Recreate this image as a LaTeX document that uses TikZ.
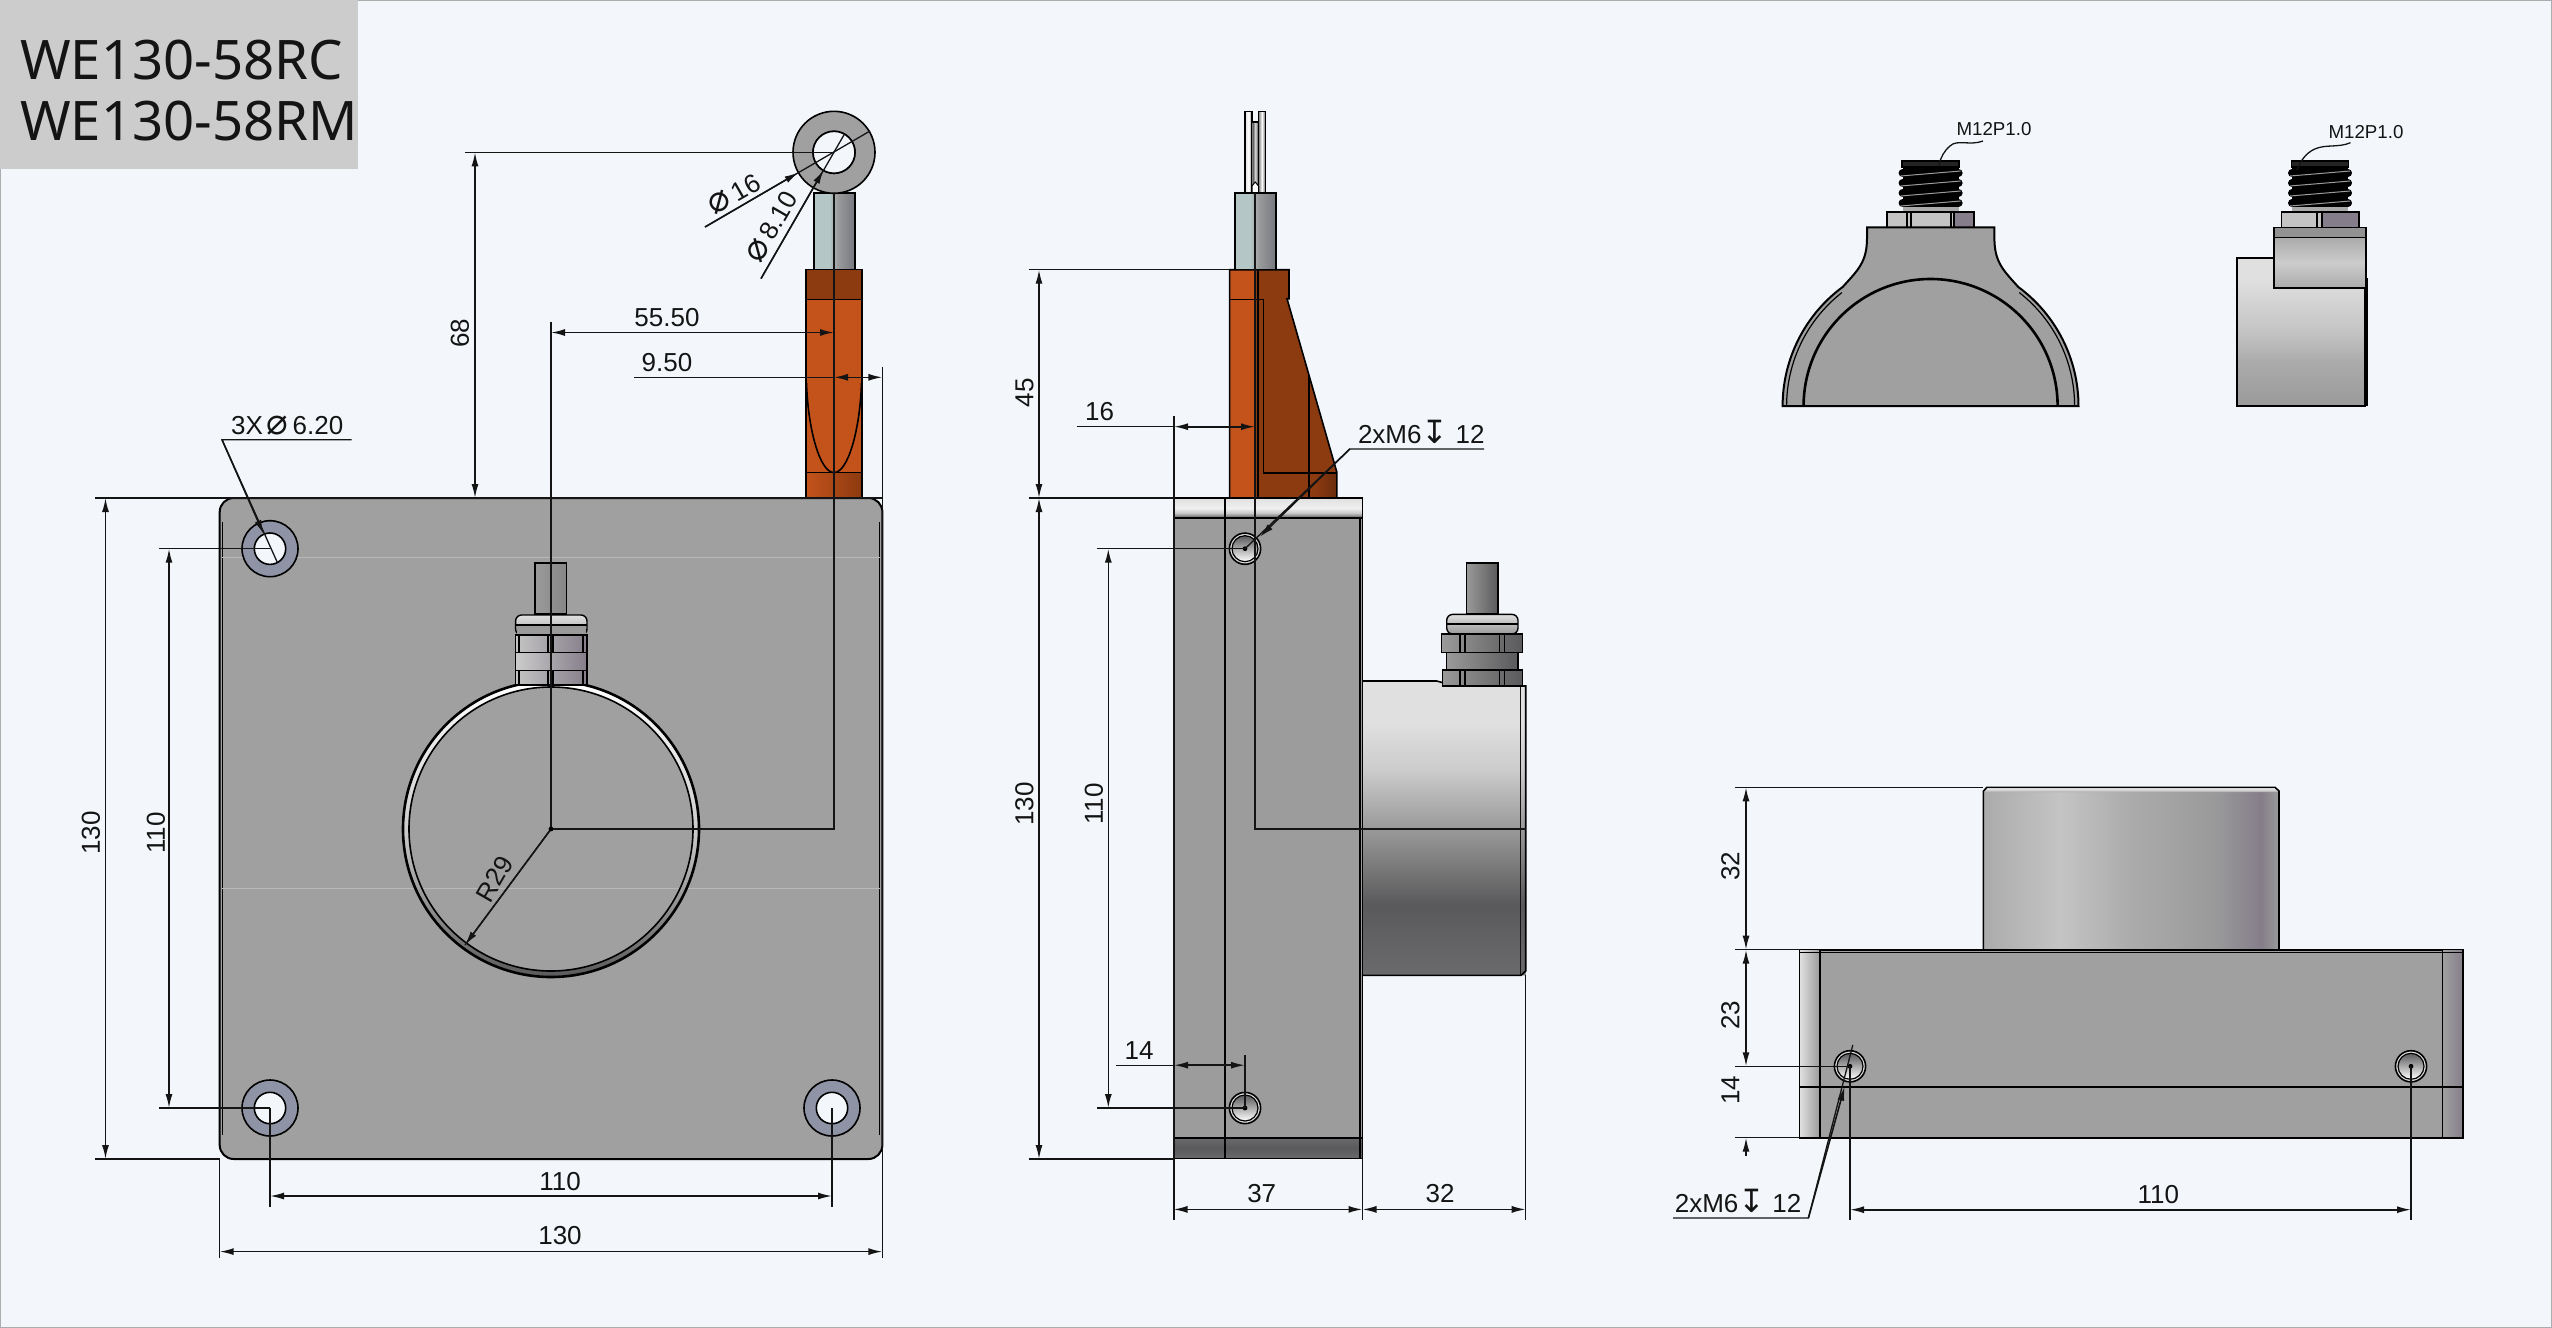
\documentclass[tikz,border=0pt]{standalone}
\usepackage{fontspec}
\setmainfont{Liberation Sans}
\newfontfamily\titlefont{Noto Sans}
\newfontfamily\symfont{DejaVu Sans}
\usetikzlibrary{calc,arrows.meta}
\definecolor{pagebg}{HTML}{F3F7FC}
\definecolor{titlebg}{HTML}{CCCCCC}
\definecolor{platecol}{HTML}{A0A0A0}
\definecolor{sidecol}{HTML}{9C9C9C}
\definecolor{orangeL}{HTML}{C4531B}
\definecolor{orangeD}{HTML}{8C3A10}
\definecolor{ringcol}{HTML}{8E93A6}
\definecolor{inkcol}{HTML}{141414}
\definecolor{cA}{HTML}{6A6A6C}
\definecolor{cB}{HTML}{5A5A5C}
\definecolor{cC}{HTML}{9A9A9A}
\definecolor{cD}{HTML}{CCCCCC}
\definecolor{cE}{HTML}{E0E0E0}
\definecolor{cF}{HTML}{ABABAB}
\definecolor{cG}{HTML}{C4C4C4}
\definecolor{cH}{HTML}{857E8A}
\definecolor{cI}{HTML}{B4C6C6}
\definecolor{cJ}{HTML}{767880}
\definecolor{cK}{HTML}{F0F0F0}
\pgfdeclareverticalshading{drumside}{100bp}{color(0bp)=(cA);color(25bp)=(cA);color(37bp)=(cB);color(50bp)=(cC);color(60bp)=(cD);color(68bp)=(cE);color(75bp)=(cE);color(100bp)=(cE)}
\pgfdeclareverticalshading{drumsmall}{100bp}{color(0bp)=(cC);color(25bp)=(cC);color(40bp)=(cF);color(50bp)=(cG);color(68bp)=(cE);color(75bp)=(cE);color(100bp)=(cE)}
\pgfdeclareverticalshading{bandtop}{100bp}{color(0bp)=(cB);color(25bp)=(cB);color(38bp)=(cD);color(50bp)=(cK);color(75bp)=(cE);color(100bp)=(cE)}
\pgfdeclareverticalshading{bandlow}{100bp}{color(0bp)=(cA);color(25bp)=(cA);color(50bp)=(cB);color(75bp)=(cA);color(100bp)=(cA)}
\pgfdeclarehorizontalshading{drumtop}{100bp}{color(0bp)=(cF);color(25bp)=(cF);color(38bp)=(cG);color(50bp)=(cF);color(64bp)=(cC);color(72bp)=(cH);color(75bp)=(cC);color(100bp)=(cC)}
\pgfdeclarehorizontalshading{rodmetal}{100bp}{color(0bp)=(cI);color(25bp)=(cI);color(44bp)=(cI);color(54bp)=(cC);color(75bp)=(cJ);color(100bp)=(cJ)}
\pgfdeclarehorizontalshading{forkmetal}{100bp}{color(0bp)=(cE);color(25bp)=(cE);color(34bp)=(white);color(44bp)=(cB);color(50bp)=(cE);color(56bp)=(cB);color(66bp)=(white);color(75bp)=(cB);color(100bp)=(cB)}
\tikzset{
  dimtext/.style={font=\fontsize{26}{26}\selectfont,text=inkcol,inner sep=0pt},
  smalltext/.style={font=\fontsize{18.7}{19}\selectfont,text=inkcol,inner sep=0pt},
  titletext/.style={anchor=base west,inner sep=0pt,font=\titlefont\fontsize{54.5}{54}\selectfont,text=inkcol},
  dimarrow/.style={line width=1.6pt,draw=inkcol,{Latex[length=14pt,width=7pt]}-{Latex[length=14pt,width=7pt]}},
  tiparrow/.style={line width=1.6pt,draw=inkcol,-{Latex[length=14pt,width=7pt]}},
  extline/.style={line width=1.3pt,draw=inkcol},
  outline/.style={line width=1.6pt,draw=black},
  bigline/.style={line width=2.6pt,draw=black},
}
\newcommand{\dia}{{\symfont\fontsize{36}{26}\selectfont ⌀}}
\newcommand{\depth}{{\symfont\fontsize{32}{26}\selectfont ↧}}
% thread of the small connector, #1 is its centre line
\newcommand{\drawthread}[1]{
  \fill[black] (#1-28,167) rectangle (#1+28,207);
  \foreach \ty in {173,183,...,203}{
    \fill[black] (#1-28,\ty) circle[radius=4pt] (#1+28,\ty) circle[radius=4pt];
    \draw[cC,line width=1pt] (#1-30,\ty+3) -- (#1+30,\ty-2);
  }
  \fill[cB!40!black] (#1-28.5,161) rectangle (#1+28.5,167);
  \fill[cF] (#1-28,207) rectangle (#1+28,212);
  \draw[outline] (#1-28.5,161) rectangle (#1+28.5,167);
}
% threaded hole of the side views
\newcommand{\drawhole}[2]{
  \draw[line width=1.6pt,fill=cE] (#1,#2) circle[radius=15.6pt];
  \shade[top color=cB,bottom color=white,draw=black,line width=1.2pt] (#1,#2) circle[radius=13pt];
  \fill[black] (#1,#2) circle[radius=2.4pt];
}
\begin{document}
\begin{tikzpicture}[x=1pt,y=-1pt]
  \useasboundingbox (0,0) rectangle (2552,1328);
  \fill[pagebg] (0,0) rectangle (2552,1328);
  \draw[cD!85!black,line width=2.5pt] (0,0) rectangle (2552,1328);
  \fill[titlebg] (0,0) rectangle (358,169);
  \node[titletext] (title1) at (20,79) {WE130-58RC};
  \node[titletext] (title2) at (20,140) {WE130-58RM};

  % front view
  \coordinate (FC) at (551,829);
  \coordinate (H1) at (270,548.7);
  \coordinate (H2) at (270,1108);
  \coordinate (H3) at (832,1108);
  \coordinate (RC) at (834,152.3);
  \fill[orangeL] (806,269.4) rectangle (862,498);
  \fill[orangeD] (806,269.4) rectangle (862,299.6);
  \shade[left color=orangeL,right color=orangeD] (806,472.6) rectangle (862,498);
  \draw[outline] (806,498) -- (806,269.4) -- (862,269.4) -- (862,498);
  \draw[outline] (806,299.6) -- (862,299.6) (806,472.6) -- (862,472.6);
  \draw[outline] (806.5,383) .. controls (808,430) and (820,472.6) .. (834,472.6) .. controls (848,472.6) and (860,430) .. (861.5,383);
  \shade[shading=rodmetal,draw=black,line width=1.4pt] (814,193) rectangle (855,269.4);
  \draw[outline,fill=platecol,even odd rule] (RC) circle[radius=41pt] (RC) circle[radius=21pt];
  \fill[pagebg] (RC) circle[radius=21pt];
  \draw[outline] (RC) circle[radius=21pt];
  \draw[line width=2pt,fill=platecol,rounded corners=14pt] (219.7,498) rectangle (882.4,1159);
  \draw[line width=1.2pt] (222.5,522) -- (222.5,1135) (879.6,522) -- (879.6,1135);
  \draw[line width=1pt,draw=white!25!platecol] (222,557) -- (880,557) (222,888) -- (880,888);
  \foreach \hole in {H1,H2,H3}{
    \draw[outline,fill=ringcol] (\hole) circle[radius=28pt];
    \draw[outline,fill=pagebg] (\hole) circle[radius=15.7pt];
  }
  \shade[top color=white,bottom color=cB,middle color=cD,even odd rule] (FC) circle[radius=147pt] (FC) circle[radius=142pt];
  \draw[line width=2.6pt] (FC) circle[radius=148pt];
  \draw[outline] (FC) circle[radius=142pt];
  % cable gland on the front view
  \shade[left color=cC,right color=cC!70!cB,draw=black,line width=1.4pt] (535,563) rectangle (566.5,614);
  \shade[top color=cE,bottom color=cF,draw=black,line width=1.4pt,rounded corners=6pt] (515.6,635) -- (515.6,615) -- (587,615) -- (587,635) -- cycle;
  \fill[cC] (516.5,625) rectangle (586,634);
  \draw[line width=1.2pt] (515.6,625) -- (587,625);
  \shade[left color=cG,right color=cH,draw=black,line width=1.4pt] (515.6,635) rectangle (587,652.7);
  \shade[left color=cD,right color=cH,draw=black,line width=1.4pt] (515.6,652.7) rectangle (587,670.7);
  \shade[left color=cG,right color=cH,draw=black,line width=1.4pt] (515.6,670.7) rectangle (587,685);
  \foreach \gx in {519,548,553,583}{
    \draw[line width=1.2pt] (\gx,635) -- (\gx,652.7) (\gx,670.7) -- (\gx,685);
  }

  % side view
  \coordinate (SC) at (1255,829);
  \coordinate (S1) at (1245,548.7);
  \coordinate (S2) at (1245,1108);
  \fill[orangeD] (1229.6,269.7) -- (1289,269.7) -- (1289,298.7) -- (1287,298.7) -- (1336.8,472) -- (1336.8,498) -- (1229.6,498) -- cycle;
  \fill[orangeL] (1229.6,269.7) rectangle (1255,498);
  \shade[left color=orangeD,right color=orangeD!75!black] (1315,472.7) rectangle (1336.8,498);
  \draw[outline] (1229.6,498) -- (1229.6,269.7) -- (1289,269.7) -- (1289,298.7) -- (1287,298.7) -- (1336.8,472) -- (1336.8,498);
  \draw[outline] (1229.6,299.3) -- (1263.3,299.3) -- (1263.3,472.7) -- (1336.8,472.7);
  \draw[outline] (1258,269.7) -- (1258,498) (1309,375) -- (1309,498);
  \shade[shading=forkmetal,draw=black,line width=1.4pt] (1245,193) -- (1245,111.7) -- (1251.8,111.7) -- (1251.8,122) -- (1258.7,122) -- (1258.7,111.7) -- (1265.6,111.7) -- (1265.6,193) -- cycle;
  \draw[line width=1pt] (1251.8,122) -- (1251.8,193) (1258.7,122) -- (1258.7,193);
  \draw[line width=1pt,fill=white] (1252,193) -- (1252,186) -- (1255.2,182) -- (1258.5,186) -- (1258.5,193) -- cycle;
  \shade[shading=rodmetal,draw=black,line width=1.4pt] (1235,193) rectangle (1276,269.7);
  \shade[shading=drumside] (1362.7,681) -- (1436.7,681) -- (1455,686) -- (1525.7,686) -- (1525.7,975.3) -- (1362.7,975.3) -- cycle;
  \draw[outline] (1362.7,681) -- (1436.7,681) -- (1455,686) -- (1525.7,686) -- (1525.7,971) -- (1521,975.3) -- (1362.7,975.3);
  \draw[extline] (1520.7,686) -- (1520.7,975.3);
  \draw[outline,fill=sidecol] (1174,498) rectangle (1362.4,1158.5);
  \shade[shading=bandtop,draw=black,line width=1.6pt] (1174,498) rectangle (1362.4,518);
  \shade[shading=bandlow,draw=black,line width=1.6pt] (1174,1137.8) rectangle (1362.4,1158.5);
  \draw[outline] (1224.7,498) -- (1224.7,1158.5);
  \draw[outline] (1360,518) -- (1360,1158.5);
  \drawhole{1245}{548.7}
  \drawhole{1245}{1108}
  % cable gland on the side view
  \shade[left color=cC,right color=cB,draw=black,line width=1.4pt] (1466.7,563) rectangle (1498,613.5);
  \shade[top color=cE,bottom color=cC,draw=black,line width=1.4pt,rounded corners=6pt] (1446.7,634) -- (1446.7,614.4) -- (1518,614.4) -- (1518,634) -- cycle;
  \draw[line width=1.2pt] (1446.7,624) -- (1518,624);
  \shade[left color=cC,right color=cB,draw=black,line width=1.4pt] (1446.7,652.5) rectangle (1518,670);
  \shade[left color=cC,right color=cB,draw=black,line width=1.4pt] (1441.7,634) rectangle (1522.7,652.5);
  \shade[left color=cC,right color=cB,draw=black,line width=1.4pt] (1442.3,670) rectangle (1522.3,686);
  \foreach \gx in {1460,1465,1499.3,1504.3}{
    \draw[line width=1.2pt] (\gx,634) -- (\gx,652.5) (\gx,670) -- (\gx,686);
  }

  % connector, end view
  \coordinate (TC) at (1930.6,406);
  \drawthread{1930.6}
  \fill[cG] (1886.7,212) rectangle (1974,227.3);
  \fill[cH] (1954,212) rectangle (1974,227.3);
  \draw[outline] (1886.7,212) rectangle (1974,227.3);
  \draw[outline] (1907,212) -- (1907,227.3) (1911,212) -- (1911,227.3) (1951,212) -- (1951,227.3) (1954,212) -- (1954,227.3);
  \draw[line width=2pt,fill=platecol] ($(TC)+(-148,0)$) arc[start angle=180,end angle=126.4,radius=148pt] .. controls (1858,270) and (1867,262) .. (1867,238) -- (1867,227.3) -- (1994.4,227.3) -- (1994.4,238) .. controls (1994.4,262) and (2003,270) .. (2018.3,287) arc[start angle=53.6,end angle=0,radius=148pt] -- cycle;
  \draw[line width=1.2pt] ($(TC)+(-144,0)$) arc[start angle=180,end angle=128,radius=144pt] ($(TC)+(144,0)$) arc[start angle=0,end angle=52,radius=144pt];
  \draw[bigline] ($(TC)+(-127,0)$) arc[start angle=180,end angle=0,radius=127pt];
  \node[smalltext] (m12a) at (1994,129.3) {M12P1.0};
  \draw[extline] (1983,141) .. controls (1970,146) and (1957,139) .. (1950,146) .. controls (1944,151) and (1941,157) .. (1938.8,165);

  % connector, side view
  \drawthread{2320}
  \shade[shading=drumsmall,draw=black,line width=1.6pt] (2236.7,257.7) rectangle (2364.8,406);
  \draw[line width=2.6pt] (2367,278) -- (2367,406);
  \shade[top color=cF,bottom color=cF,middle color=cD,draw=black,line width=2pt] (2274,237.3) rectangle (2365.8,288);
  \fill[cC!95!black] (2274,227.3) rectangle (2365.8,237.3);
  \draw[outline] (2274,227.3) rectangle (2365.8,237.3);
  \fill[cG] (2281.6,212) rectangle (2358.7,227.3);
  \fill[cH] (2322,212) rectangle (2358.7,227.3);
  \draw[outline] (2281.6,212) rectangle (2358.7,227.3);
  \draw[outline] (2317,212) -- (2317,227.3) (2322,212) -- (2322,227.3);
  \node[smalltext] (m12b) at (2366,131.7) {M12P1.0};
  \draw[extline] (2350.5,142.7) .. controls (2338,148) and (2326,144) .. (2314.8,149) .. controls (2306,153) and (2301,160) .. (2297,170);

  % rear view
  \coordinate (B1) at (1850,1066.3);
  \coordinate (B2) at (2411,1066.3);
  \shade[shading=drumtop] (1983.4,792) rectangle (2279,949.3);
  \shade[top color=white,bottom color=cF] (1983.4,792) -- (1983.4,791) -- (1987,787.3) -- (2275,787.3) -- (2279,791) -- (2279,792) -- cycle;
  \draw[outline] (1983.4,949.3) -- (1983.4,791) -- (1987,787.3) -- (2275,787.3) -- (2279,791) -- (2279,949.3);
  \draw[line width=2pt,fill=platecol] (1799.6,949.7) rectangle (2462.8,1137.7);
  \shade[left color=cE,right color=cC,draw=black,line width=1.4pt] (1799.6,949.7) rectangle (1820,1137.7);
  \shade[left color=platecol,right color=cH,draw=black,line width=1.4pt] (2442.5,949.7) rectangle (2462.8,1137.7);
  \draw[line width=1.2pt] (1799.6,952.3) -- (2462.8,952.3);
  \draw[outline] (1799.6,1087) -- (2462.8,1087);
  \drawhole{1850}{1066.3}
  \drawhole{2411}{1066.3}

  % dimensions, front view
  \draw[extline] (465,152.3) -- (RC);
  \draw[extline] (95,498) -- (882,498);
  \draw[extline] (95,1159) -- (220,1159);
  \draw[dimarrow] (475,152.3) -- (475,498);
  \node[dimtext,rotate=90] (d68) at (460,333) {68};
  \draw[dimarrow] (105.5,498) -- (105.5,1159);
  \node[dimtext,rotate=90] (d130a) at (91,833) {130};
  \draw[extline] (159,548.7) -- (H1);
  \draw[extline] (159,1108) -- (H2);
  \draw[dimarrow] (169,548.7) -- (169,1108);
  \node[dimtext,rotate=90] (d110a) at (156,833) {110};
  \draw[extline] (551,321.5) -- (FC) -- (834,829) -- (834,193);
  \draw[dimarrow] (551,332.5) -- (834,332.5);
  \node[dimtext] (d55) at (667,318) {55.50};
  \draw[extline] (634,377.3) -- (834,377.3);
  \draw[dimarrow] (834,377.3) -- (882.4,377.3);
  \draw[extline] (882.4,366.6) -- (882.4,1258);
  \node[dimtext] (d9) at (667,363) {9.50};
  \draw[extline] (705,227) -- (870,131);
  \draw[tiparrow] (705,227) -- (798.5,172.5);
  \node[dimtext,rotate=30] (dphi16) at (734,194) {\dia\hspace{5pt}16};
  \draw[extline] (761,278.6) -- (844.5,134);
  \draw[tiparrow] (761,278.6) -- (823.5,170);
  \node[dimtext,rotate=60] (dphi8) at (772,227) {\dia\hspace{5pt}8.10};
  \draw[extline] (351.5,439.7) -- (222,439.7) -- (277.6,563);
  \draw[tiparrow] (222,439.7) -- (263.6,534);
  \node[dimtext,anchor=base west] (d3x) at (231,434) {3X\hspace{3pt}\dia\hspace{5pt}6.20};
  \draw[extline] (FC) -- (465,945);
  \draw[tiparrow] (FC) -- (465,945);
  \fill[black] (FC) circle[radius=2.4pt];
  \node[dimtext,rotate=60] (dr29) at (494.6,879) {R29};
  \draw[extline] (H2) -- (270,1207) (H3) -- (832,1207);
  \draw[dimarrow] (270,1196) -- (832,1196);
  \node[dimtext] (d110b) at (560,1182) {110};
  \draw[extline] (219.7,1159) -- (219.7,1258);
  \draw[dimarrow] (219.7,1251.6) -- (882.4,1251.6);
  \node[dimtext] (d130b) at (560,1236) {130};

  % dimensions, side view
  \draw[extline] (1028.7,269.7) -- (1230,269.7);
  \draw[extline] (1028.7,498) -- (1174,498);
  \draw[dimarrow] (1039,269.7) -- (1039,498);
  \node[dimtext,rotate=90] (d45) at (1024.5,392.7) {45};
  \draw[dimarrow] (1039,498) -- (1039,1159);
  \draw[extline] (1028.7,1159) -- (1174,1159);
  \node[dimtext,rotate=90] (d130c) at (1024.5,804) {130};
  \draw[extline] (1255,193) -- (SC) -- (1525.7,829);
  \draw[extline] (1076.5,426.7) -- (1174,426.7);
  \draw[dimarrow] (1174,426.7) -- (1255,426.7);
  \draw[extline] (1174,416) -- (1174,1219.5);
  \node[dimtext] (d16) at (1099.5,412) {16};
  \draw[extline] (1484,449) -- (1349.8,449) -- (S1);
  \draw[tiparrow] (1349.8,449) -- (1260,536.7);
  \node[dimtext,anchor=base west] (dm6a) at (1357.8,443) {2xM6\depth\ 12};
  \draw[extline] (1097,548.7) -- (S1);
  \draw[extline] (1097,1108) -- (S2);
  \draw[dimarrow] (1108.3,548.7) -- (1108.3,1108);
  \node[dimtext,rotate=90] (d110c) at (1093.8,804) {110};
  \draw[extline] (1116,1065.2) -- (1174,1065.2);
  \draw[dimarrow] (1174,1065.2) -- (1245,1065.2);
  \draw[extline] (1245,1055) -- (S2);
  \node[dimtext] (d14a) at (1139,1051) {14};
  \draw[extline] (1362.5,1159) -- (1362.5,1219.5);
  \draw[extline] (1525.7,975) -- (1525.7,1219.5);
  \draw[dimarrow] (1173.5,1209.4) -- (1362.5,1209.4);
  \draw[dimarrow] (1362.5,1209.4) -- (1525.7,1209.4);
  \node[dimtext] (d37) at (1261.7,1194) {37};
  \node[dimtext] (d32a) at (1440,1194) {32};

  % dimensions, rear view
  \draw[extline] (1735.4,787.3) -- (1983,787.3);
  \draw[extline] (1735.4,949.7) -- (1800,949.7);
  \draw[extline] (1735.4,1066.3) -- (B1);
  \draw[extline] (1735.4,1137.7) -- (1800,1137.7);
  \draw[dimarrow] (1746,787.3) -- (1746,949.7);
  \draw[dimarrow] (1746,949.7) -- (1746,1066.3);
  \draw[tiparrow] (1746,1156) -- (1746,1137.7);
  \node[dimtext,rotate=90] (d32b) at (1730.5,866) {32};
  \node[dimtext,rotate=90] (d23) at (1730.5,1015) {23};
  \node[dimtext,rotate=90] (d14b) at (1730.5,1090) {14};
  \draw[extline] (B1) -- (1850,1220) (B2) -- (2411,1220);
  \draw[dimarrow] (1850,1209.7) -- (2411,1209.7);
  \node[dimtext] (d110d) at (2158.4,1195) {110};
  \draw[extline] (1673,1218) -- (1808.4,1218) -- (1852.8,1045);
  \draw[tiparrow] (1808.4,1218) -- (1844.6,1086.7);
  \node[dimtext,anchor=base west] (dm6b) at (1674.6,1212) {2xM6\depth\ 12};
\end{tikzpicture}
\end{document}
